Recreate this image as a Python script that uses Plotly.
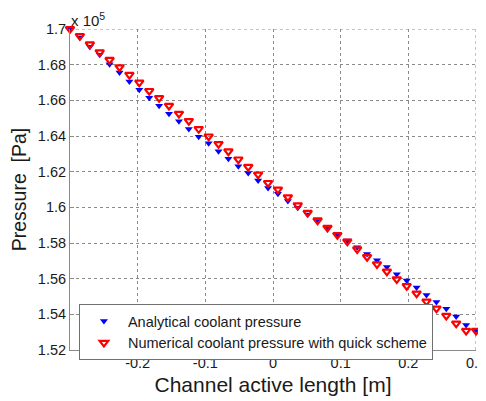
import plotly.graph_objects as go

# Channel position [m]
position_m = [-0.3000, -0.2854, -0.2707, -0.2561, -0.2415, -0.2268, -0.2122, -0.1976,
              -0.1829, -0.1683, -0.1537, -0.1390, -0.1244, -0.1098, -0.0951, -0.0805,
              -0.0659, -0.0512, -0.0366, -0.0220, -0.0073, 0.0073, 0.0220, 0.0366,
              0.0512, 0.0659, 0.0805, 0.0951, 0.1098, 0.1244, 0.1390, 0.1537,
              0.1683, 0.1829, 0.1976, 0.2122, 0.2268, 0.2415, 0.2561, 0.2707,
              0.2854, 0.3000]

# Pressure in units of 1e5 Pa
analytical_p = [1.7000, 1.6952, 1.6901, 1.6855, 1.6803, 1.6756, 1.6706, 1.6659,
                1.6614, 1.6570, 1.6525, 1.6483, 1.6439, 1.6396, 1.6359, 1.6314,
                1.6272, 1.6230, 1.6193, 1.6150, 1.6109, 1.6076, 1.6035, 1.5997,
                1.5960, 1.5923, 1.5884, 1.5845, 1.5814, 1.5776, 1.5739, 1.5703,
                1.5665, 1.5625, 1.5590, 1.5551, 1.5508, 1.5469, 1.5431, 1.5388,
                1.5340, 1.5313]

numerical_p = [1.7000, 1.6961, 1.6914, 1.6870, 1.6827, 1.6786, 1.6743, 1.6700,
               1.6653, 1.6613, 1.6570, 1.6525, 1.6484, 1.6439, 1.6398, 1.6355,
               1.6314, 1.6269, 1.6227, 1.6184, 1.6137, 1.6100, 1.6057, 1.6012,
               1.5970, 1.5927, 1.5886, 1.5845, 1.5808, 1.5765, 1.5722, 1.5681,
               1.5640, 1.5597, 1.5559, 1.5517, 1.5472, 1.5433, 1.5392, 1.5349,
               1.5308, 1.5308]

x_ticks = [-0.2, -0.1, 0, 0.1, 0.2, 0.3]
x_tick_labels = ["-0.2", "-0.1", "0", "0.1", "0.2", "0.3"]
y_ticks = [1.52, 1.54, 1.56, 1.58, 1.60, 1.62, 1.64, 1.66, 1.68, 1.70]
y_tick_labels = ["1.52", "1.54", "1.56", "1.58", "1.6", "1.62", "1.64", "1.66", "1.68", "1.7"]

FONT = "Liberation Sans, Arial, sans-serif"
GRID = "#8a8a8a"

fig = go.Figure()
fig.add_trace(go.Scatter(
    x=position_m, y=analytical_p, mode="markers",
    name="Analytical coolant pressure",
    marker=dict(symbol="triangle-down", size=7, color="#0000ff",
                line=dict(width=0)),
    cliponaxis=False,
))
fig.add_trace(go.Scatter(
    x=position_m, y=numerical_p, mode="markers",
    name="Numerical coolant pressure with quick scheme",
    marker=dict(symbol="triangle-down-open", size=7.5, color="#ff0000",
                line=dict(width=2.2, color="#ff0000")),
    cliponaxis=False,
))

# Grid lines on the upper and right edges of the axes (MATLAB-style grid)
fig.add_shape(type="line", xref="x", yref="paper",
              x0=x_ticks[-1], x1=x_ticks[-1], y0=0, y1=1, layer="below",
              line=dict(color=GRID, width=1, dash="dot"))
fig.add_shape(type="line", xref="paper", yref="y",
              x0=0, x1=1, y0=y_ticks[-1], y1=y_ticks[-1], layer="below",
              line=dict(color=GRID, width=1, dash="dot"))

# The page body has an 8px default margin; size the figure to fill the
# remaining 478x393 area of the 486x401 window.
fig.update_layout(
    width=478, height=393,
    margin=dict(l=62, r=10, t=21, b=51, autoexpand=False),
    paper_bgcolor="white", plot_bgcolor="white",
    font=dict(family=FONT, size=14, color="#1a1a1a"),
    showlegend=True,
    legend=dict(
        x=0.022, y=-0.031, xanchor="left", yanchor="bottom",
        bgcolor="white", bordercolor="#707070", borderwidth=1,
        font=dict(family=FONT, size=14.5, color="#1a1a1a"),
        tracegroupgap=0, itemwidth=38,
    ),
    xaxis=dict(
        range=[-0.3, 0.3], tickvals=x_ticks, ticktext=x_tick_labels,
        showgrid=True, gridcolor=GRID, griddash="dot", gridwidth=1,
        showline=True, linecolor=GRID, linewidth=1,
        ticks="inside", ticklen=4, tickcolor=GRID,
        zeroline=False, mirror=False, automargin=False,
        ticklabeloverflow="allow",
        title=dict(text="Channel active length [m]",
                   font=dict(family=FONT, size=21, color="#1a1a1a"), standoff=6),
        tickfont=dict(family=FONT, size=14.5, color="#1a1a1a"),
    ),
    yaxis=dict(
        range=[1.52, 1.70], tickvals=y_ticks, ticktext=y_tick_labels,
        showgrid=True, gridcolor=GRID, griddash="dot", gridwidth=1,
        showline=True, linecolor=GRID, linewidth=1,
        ticks="inside", ticklen=4, tickcolor=GRID,
        zeroline=False, mirror=False, automargin=False,
        ticklabeloverflow="allow",
        title=dict(text="Pressure  [Pa]",
                   font=dict(family=FONT, size=19.5, color="#1a1a1a"), standoff=10),
        tickfont=dict(family=FONT, size=14.5, color="#1a1a1a"),
    ),
    annotations=[dict(
        text="x 10<sup>5</sup>", x=0, y=1, xref="paper", yref="paper",
        xanchor="left", yanchor="bottom", showarrow=False, yshift=-2, xshift=-1,
        font=dict(family=FONT, size=15, color="#1a1a1a"),
    )],
)

fig.write_html("out.html")
